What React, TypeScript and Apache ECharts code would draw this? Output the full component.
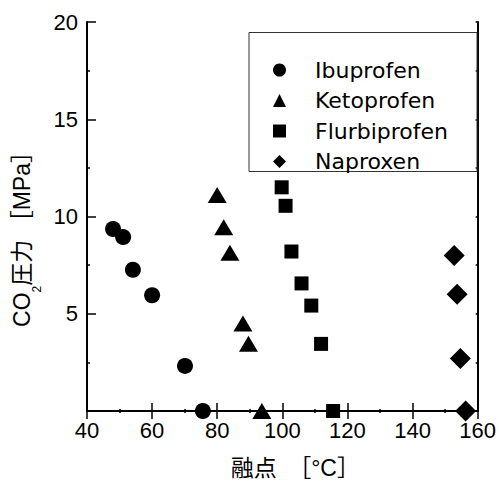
import React, { useEffect, useRef } from "react";
import * as echarts from "echarts";

const xTicks = [40, 60, 80, 100, 120, 140, 160];
const yTicks = [0, 5, 10, 15, 20];
const seriesNames = ["Ibuprofen", "Ketoprofen", "Flurbiprofen", "Naproxen"];
const ibuprofen = [
  [48.0, 9.36],
  [51.1, 8.94],
  [54.1, 7.26],
  [60.0, 5.95],
  [70.1, 2.32],
  [75.6, 0],
];
const ketoprofen = [
  [80.0, 11.1],
  [82.0, 9.45],
  [83.9, 8.14],
  [87.9, 4.5],
  [89.6, 3.46],
  [93.7, 0],
];
const flurbiprofen = [
  [99.8, 11.5],
  [101.0, 10.55],
  [102.8, 8.2],
  [105.9, 6.56],
  [108.9, 5.42],
  [111.9, 3.45],
  [115.6, 0],
];
const naproxen = [
  [152.8, 8.0],
  [153.7, 6.0],
  [154.7, 2.7],
  [156.3, 0],
];

const LATIN = "'Liberation Sans', Arial, 'Noto Sans CJK JP', sans-serif";

export default function App() {
  const ref = useRef<HTMLDivElement>(null);
  useEffect(() => {
    if (!ref.current) return;
    const chart = echarts.init(ref.current, undefined, { renderer: "svg" });
    const axisCommon = {
      type: "value" as const,
      axisLine: { show: true, lineStyle: { color: "#000", width: 2 } },
      splitLine: { show: false },
      minorSplitLine: { show: false },
    };
    const symbols = ["circle", "triangle", "rect", "diamond"];
    const sizes: any[] = [16, [19, 16], 14, 21];
    const datas = [ibuprofen, ketoprofen, flurbiprofen, naproxen];
    chart.setOption({
      animation: false,
      backgroundColor: "#fff",
      grid: { left: 87, top: 22, right: 18, bottom: 69, containLabel: false },
      legend: {
        orient: "vertical",
        left: 268,
        top: 53,
        itemWidth: 13,
        itemHeight: 13,
        itemGap: 6.5,
        data: seriesNames,
        textStyle: {
          fontFamily: "'DejaVu Sans', sans-serif",
          fontSize: 22,
          color: "#000",
          lineHeight: 24,
          padding: [0, 0, 0, 24],
        },
        selectedMode: false,
      },
      graphic: [
        {
          type: "rect",
          left: 246.5,
          top: 30,
          shape: { width: 228, height: 139 },
          style: { fill: "none", stroke: "#333", lineWidth: 1 },
          z: 1,
        },
      ],
      xAxis: [
        {
          ...axisCommon,
          min: xTicks[0],
          max: xTicks[xTicks.length - 1],
          interval: 20,
          position: "bottom",
          axisTick: { show: true, inside: true, length: 8, lineStyle: { color: "#000", width: 1.5 } },
          minorTick: { show: true, splitNumber: 2, length: 2, lineStyle: { color: "#000", width: 1.5 } },
          axisLabel: { color: "#000", fontSize: 22, fontFamily: LATIN, margin: 8 },
          name: "融点　［°C］",
          nameLocation: "middle",
          nameGap: 45,
          nameTextStyle: { color: "#000", fontSize: 23, fontFamily: LATIN, padding: [0, 0, 0, 26] },
        },
        {
          ...axisCommon,
          min: xTicks[0],
          max: xTicks[xTicks.length - 1],
          interval: 20,
          position: "top",
          axisTick: { show: true, inside: true, length: 8, lineStyle: { color: "#000", width: 1.5 } },
          minorTick: { show: true, splitNumber: 2, length: 2, lineStyle: { color: "#000", width: 1.5 } },
          axisLabel: { show: false },
        },
      ],
      yAxis: [
        {
          ...axisCommon,
          min: yTicks[0],
          max: yTicks[yTicks.length - 1],
          interval: 5,
          position: "left",
          axisTick: { show: true, inside: true, length: 9, lineStyle: { color: "#000", width: 1.5 } },
          minorTick: { show: true, splitNumber: 2, length: 3, lineStyle: { color: "#000", width: 1.5 } },
          axisLabel: {
            color: "#000",
            fontSize: 22,
            fontFamily: LATIN,
            margin: 9,
            formatter: (v: number) => (v === 0 ? "" : String(v)),
          },
          name: "{n|CO}{s|2}{n|圧力 ［MPa］}",
          nameLocation: "middle",
          nameRotate: 90,
          nameGap: 39,
          nameTextStyle: {
            color: "#000",
            fontSize: 23,
            fontFamily: LATIN,
            padding: [0, 34, 0, 0],
            rich: {
              n: { fontSize: 23, fontFamily: LATIN, color: "#000", lineHeight: 42, verticalAlign: "middle" },
              s: { fontSize: 12, fontFamily: LATIN, color: "#000", lineHeight: 14, verticalAlign: "bottom" },
            },
          },
        },
        {
          ...axisCommon,
          min: yTicks[0],
          max: yTicks[yTicks.length - 1],
          interval: 5,
          position: "right",
          axisTick: { show: true, inside: true, length: 2, lineStyle: { color: "#000", width: 1.5 } },
          minorTick: { show: true, splitNumber: 2, length: 2, lineStyle: { color: "#000", width: 1.5 } },
          axisLabel: { show: false },
        },
      ],
      series: seriesNames.map((name, i) => ({
        name,
        type: "scatter",
        xAxisIndex: 0,
        yAxisIndex: 0,
        symbol: symbols[i],
        symbolSize: sizes[i],
        clip: false,
        itemStyle: { color: "#000", opacity: 1 },
        data: datas[i],
        z: 3,
      })),
    });
    return () => chart.dispose();
  }, []);
  return (
    <div
      ref={ref}
      style={{ position: "fixed", left: 0, top: 0, width: 499, height: 484 }}
    />
  );
}
